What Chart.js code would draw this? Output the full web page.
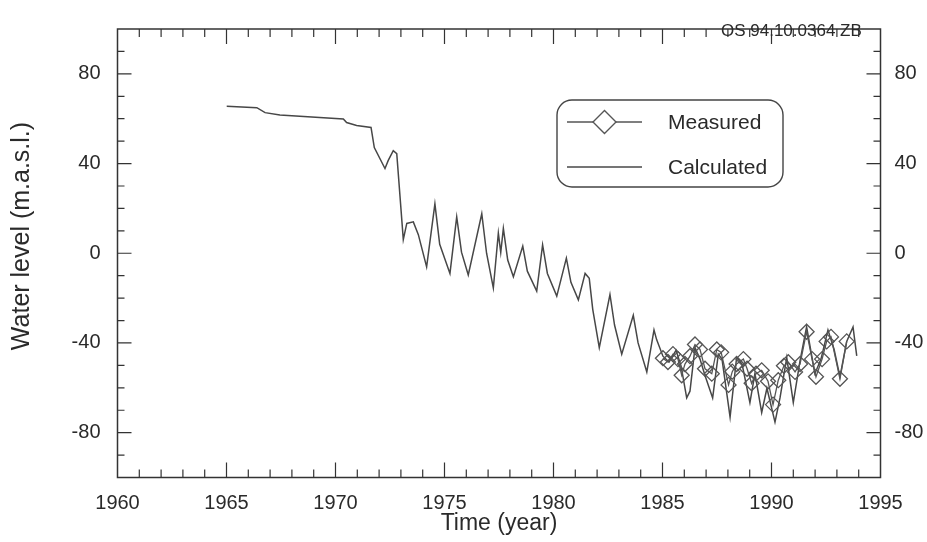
<!DOCTYPE html>
<html>
<head>
<meta charset="utf-8">
<title>Water level</title>
<script src="https://cdn.jsdelivr.net/npm/chart.js@4/dist/chart.umd.min.js"></script>
<style>
  html, body { margin: 0; padding: 0; background: #ffffff; }
  #wrap { width: 927px; height: 542px; }
</style>
</head>
<body>
<div id="wrap"><canvas id="chart" width="927" height="542"></canvas></div>
<script>
// Calculated water level (m.a.s.l.) against time (decimal year)
const calcYears = [
  1965.01, 1966.39, 1966.77, 1967.45, 1970.36, 1970.51, 1970.97, 1971.63, 1971.78, 1972.27,
  1972.42, 1972.65, 1972.81, 1973.11, 1973.27, 1973.57, 1973.80, 1974.18, 1974.56, 1974.78,
  1975.25, 1975.56, 1975.78, 1976.09, 1976.71, 1976.93, 1977.24, 1977.47, 1977.58, 1977.70,
  1977.90, 1978.16, 1978.59, 1978.80, 1979.23, 1979.50, 1979.72, 1980.15, 1980.59, 1980.80,
  1981.14, 1981.45, 1981.64, 1981.80, 1982.10, 1982.59, 1982.80, 1983.13, 1983.66, 1983.88,
  1984.28, 1984.61, 1984.73, 1985.02, 1985.30, 1985.62, 1985.85, 1986.11, 1986.26, 1986.49,
  1986.72, 1986.95, 1987.30, 1987.56, 1987.73, 1988.10, 1988.40, 1988.65, 1989.01, 1989.24,
  1989.55, 1989.79, 1990.16, 1990.39, 1990.70, 1991.00, 1991.31, 1991.61, 1991.99, 1992.27,
  1992.59, 1992.87, 1993.14, 1993.45, 1993.74, 1993.91
];
const calcLevels = [
  65.6, 64.9, 62.7, 61.6, 59.9, 58.3, 57.0, 56.1, 47.1, 37.8,
  41.4, 45.7, 44.4, 6.1, 13.3, 14.0, 8.3, -6.1, 22.0, 4.0,
  -9.0, 16.2, 0.5, -9.7, 17.6, 0.0, -15.5, 9.0, 0.3, 11.1,
  -3.0, -10.5, 3.2, -8.0, -16.9, 3.7, -9.0, -19.1, -2.2, -13.0,
  -20.8, -9.0, -11.2, -25.0, -42.1, -18.4, -32.0, -45.0, -27.7, -40.0,
  -52.9, -34.2, -38.5, -45.9, -48.5, -43.3, -50.2, -64.5, -61.5, -42.1,
  -47.2, -54.5, -64.5, -45.0, -47.2, -73.1, -46.5, -49.4, -66.6, -53.6,
  -71.0, -60.2, -75.3, -64.5, -46.5, -66.6, -47.9, -32.8, -53.7, -47.2,
  -34.2, -42.8, -55.1, -39.3, -32.9, -45.8
];

// Measured water level (m.a.s.l.)
const measYears = [
  1985.02, 1985.25, 1985.48, 1985.71, 1985.88, 1986.03, 1986.26, 1986.49, 1986.72, 1986.95,
  1987.26, 1987.49, 1987.69, 1988.03, 1988.20, 1988.40, 1988.71, 1988.88, 1989.09, 1989.29,
  1989.55, 1989.84, 1990.07, 1990.31, 1990.57, 1990.77, 1991.08, 1991.31, 1991.61, 1991.86,
  1992.04, 1992.32, 1992.53, 1992.73, 1993.14, 1993.45
];
const measLevels = [
  -46.8, -48.5, -45.0, -47.2, -54.4, -49.4, -45.9, -40.7, -42.9, -51.5,
  -53.7, -42.9, -44.2, -58.7, -52.8, -49.4, -47.2, -51.5, -58.0, -53.7,
  -52.2, -57.1, -67.5, -56.6, -50.2, -48.6, -52.9, -49.4, -35.0, -47.2,
  -55.1, -47.2, -39.3, -37.3, -56.0, -39.3
];

// Axis ticks and texts
const xTickYears = [1960, 1965, 1970, 1975, 1980, 1985, 1990, 1995];
const yTickLevels = [-80, -40, 0, 40, 80];
const xRange = [1960, 1995];
const yRange = [-100, 100];
const stationLabel = 'OS 94.10.0364 ZB';
const yAxisTitle = 'Water level (m.a.s.l.)';

const INK = '#2a2a2a';
const LINE = '#474747';
const FONT = "'Liberation Sans', Arial, sans-serif";

const calcPoints = calcYears.map((t, i) => ({ x: t, y: calcLevels[i] }));
const measPoints = measYears.map((t, i) => ({ x: t, y: measLevels[i] }));

// Frame with inward tick marks on all four sides, vertical axis title, station label and legend box
const framePlugin = {
  id: 'framePlugin',
  afterDatasetsDraw(chart) {
    const { ctx, chartArea: a, scales } = chart;
    const x = scales.x, y = scales.y;
    ctx.save();
    ctx.strokeStyle = '#333333';
    ctx.lineWidth = 1.5;
    ctx.strokeRect(a.left, a.top, a.right - a.left, a.bottom - a.top);

    ctx.lineWidth = 1.2;
    ctx.beginPath();
    for (let t = xRange[0] + 1; t < xRange[1]; t++) {
      const px = x.getPixelForValue(t);
      const len = xTickYears.includes(t) ? 15 : 8;
      ctx.moveTo(px, a.bottom); ctx.lineTo(px, a.bottom - len);
      ctx.moveTo(px, a.top); ctx.lineTo(px, a.top + len);
    }
    for (let v = yRange[0] + 10; v < yRange[1]; v += 10) {
      const py = y.getPixelForValue(v);
      const len = yTickLevels.includes(v) ? 14 : 7;
      ctx.moveTo(a.left, py); ctx.lineTo(a.left + len, py);
      ctx.moveTo(a.right, py); ctx.lineTo(a.right - len, py);
    }
    ctx.stroke();

    // vertical axis title
    ctx.fillStyle = INK;
    ctx.save();
    ctx.translate(22, 236);
    ctx.rotate(-Math.PI / 2);
    ctx.font = '25px ' + FONT;
    ctx.textAlign = 'center';
    ctx.textBaseline = 'middle';
    ctx.fillText(yAxisTitle, 0, 0);
    ctx.restore();

    // station identifier
    ctx.font = '17px ' + FONT;
    ctx.textAlign = 'left';
    ctx.textBaseline = 'middle';
    ctx.fillText(stationLabel, 721, 31);

    // legend
    const bx = 557, by = 100, bw = 226, bh = 87, r = 15;
    ctx.fillStyle = '#ffffff';
    ctx.strokeStyle = '#444444';
    ctx.lineWidth = 1.4;
    ctx.beginPath();
    ctx.roundRect(bx, by, bw, bh, r);
    ctx.fill();
    ctx.stroke();

    const ds = chart.data.datasets;
    const rows = [{ d: ds[0], yy: 122 }, { d: ds[1], yy: 167 }];
    rows.forEach(({ d, yy }) => {
      ctx.strokeStyle = d.borderColor;
      ctx.lineWidth = 1.4;
      ctx.beginPath();
      ctx.moveTo(567, yy); ctx.lineTo(642, yy);
      ctx.stroke();
      if (d.pointRadius > 0) {
        const cx = 604.5, rr = 11.5;
        ctx.fillStyle = '#ffffff';
        ctx.strokeStyle = d.pointBorderColor;
        ctx.beginPath();
        ctx.moveTo(cx, yy - rr); ctx.lineTo(cx + rr, yy);
        ctx.lineTo(cx, yy + rr); ctx.lineTo(cx - rr, yy);
        ctx.closePath();
        ctx.fill();
        ctx.stroke();
      }
      ctx.fillStyle = INK;
      ctx.font = '21px ' + FONT;
      ctx.textAlign = 'left';
      ctx.textBaseline = 'middle';
      ctx.fillText(d.label, 668, yy + 1);
    });
    ctx.restore();
  }
};

const tickFont = { family: FONT, size: 20 };
const titleFont = { family: FONT, size: 23 };

new Chart(document.getElementById('chart'), {
  type: 'line',
  data: {
    datasets: [
      {
        label: 'Measured',
        data: measPoints,
        borderColor: '#555555',
        borderWidth: 1.3,
        pointStyle: 'rectRot',
        pointRadius: 7.5,
        pointBorderColor: '#555555',
        pointBackgroundColor: 'rgba(0,0,0,0)',
        pointBorderWidth: 1.3,
        tension: 0,
        fill: false
      },
      {
        label: 'Calculated',
        data: calcPoints,
        borderColor: LINE,
        borderWidth: 1.5,
        pointRadius: 0,
        tension: 0,
        fill: false
      }
    ]
  },
  options: {
    responsive: false,
    animation: false,
    devicePixelRatio: 1,
    layout: { padding: { top: 14, left: 0, right: 0, bottom: 0 } },
    plugins: { legend: { display: false }, tooltip: { enabled: false } },
    scales: {
      x: {
        type: 'linear',
        position: 'bottom',
        min: xRange[0],
        max: xRange[1],
        afterBuildTicks: s => { s.ticks = xTickYears.map(v => ({ value: v })); },
        afterFit: s => { s.height = 64.5; },
        grid: { display: false, drawTicks: false },
        border: { display: false },
        ticks: { font: tickFont, color: INK, padding: 14, maxRotation: 0, autoSkip: false, callback: v => String(v) },
        title: { display: true, text: 'Time (year)', font: titleFont, color: INK, padding: { top: 0, bottom: 5 } }
      },
      y: {
        type: 'linear',
        position: 'left',
        min: yRange[0],
        max: yRange[1],
        afterBuildTicks: s => { s.ticks = yTickLevels.map(v => ({ value: v })); },
        afterFit: s => { s.width = 117.5; },
        grid: { display: false, drawTicks: false },
        border: { display: false },
        ticks: { font: tickFont, color: INK, padding: 17, callback: v => String(v) }
      },
      y2: {
        type: 'linear',
        position: 'right',
        min: yRange[0],
        max: yRange[1],
        afterBuildTicks: s => { s.ticks = yTickLevels.map(v => ({ value: v })); },
        afterFit: s => { s.width = 46.5; },
        grid: { display: false, drawTicks: false },
        border: { display: false },
        ticks: { font: tickFont, color: INK, padding: 14, callback: v => String(v) }
      }
    }
  },
  plugins: [framePlugin]
});
</script>
</body>
</html>
